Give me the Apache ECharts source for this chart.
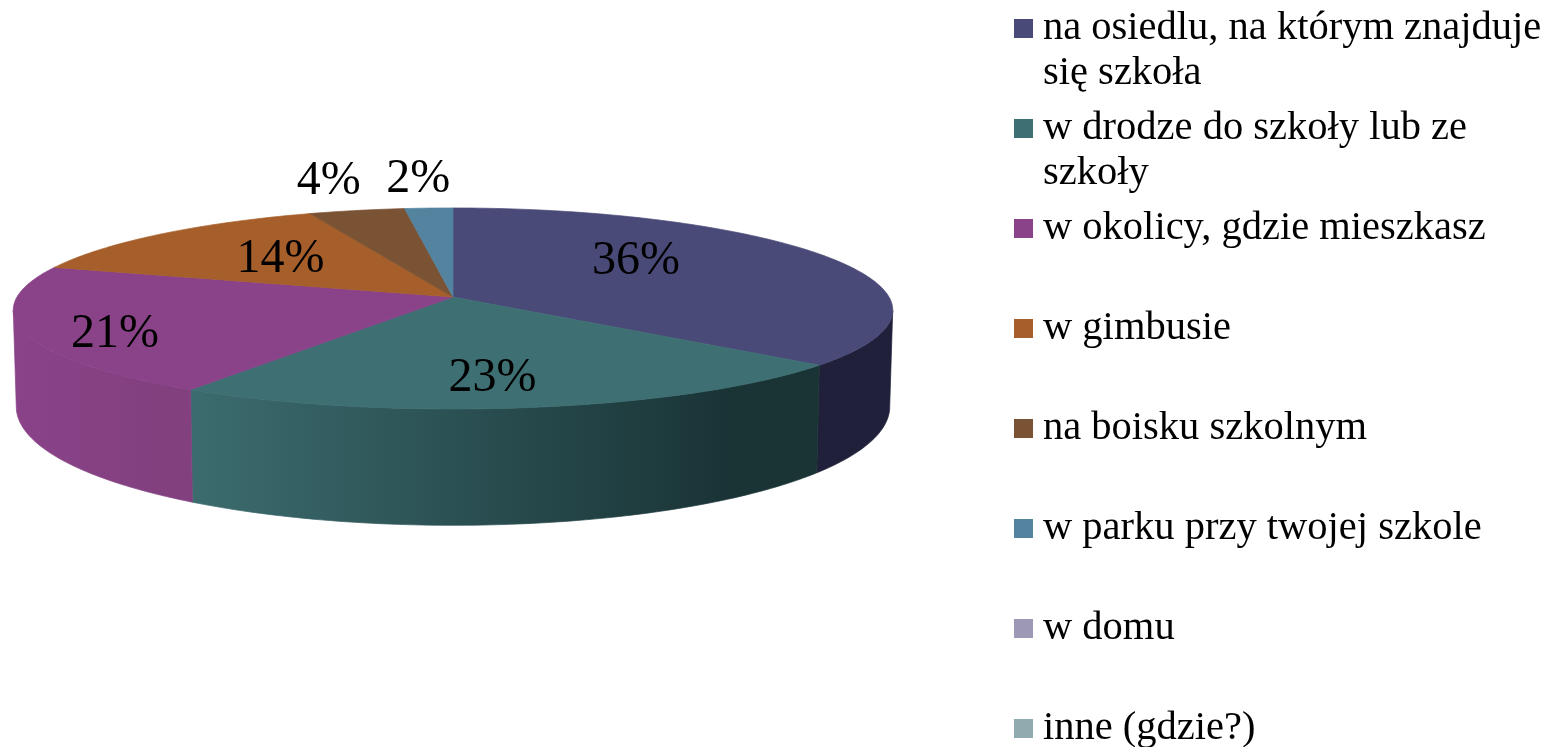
<!DOCTYPE html>
<html>
<head>
<meta charset="utf-8">
<style>
  html, body { margin: 0; padding: 0; background: #fff; overflow: hidden; }
  #chart { width: 1556px; height: 747px; }
</style>
<script src="https://cdn.jsdelivr.net/npm/echarts@6/dist/echarts.min.js"></script>
</head>
<body>
<div id="chart"></div>
<script>
// dane
const categories = [
  'na osiedlu, na którym znajduje',
  'w drodze do szkoły lub ze',
  'w okolicy, gdzie mieszkasz',
  'w gimbusie',
  'na boisku szkolnym',
  'w parku przy twojej szkole',
  'w domu',
  'inne (gdzie?)'
];
const secondLines = ['się szkoła', 'szkoły', ' ', ' ', ' ', ' ', ' ', ' '];
const values = [36, 23, 21, 14, 4, 2, 0, 0];

// kolory
const topColors = ['#4a4a78', '#3e6f73', '#8a4289', '#a65e2a', '#7a5234', '#53839f', '#9c98b5', '#90abaf'];
const wallLeft = ['#20203a', '#3c6c6f', '#8a4288', '#a65e2a', '#7a5234', '#53839f', '#9c98b5', '#90abaf'];
const wallRight = ['#20203a', '#1a3436', '#82407f', '#a65e2a', '#7a5234', '#53839f', '#9c98b5', '#90abaf'];

// polozenie etykiet: promien (1 = krawedz) i przesuniecie kata w stopniach
const labelRadius = [0.6, 0.726, 0.812, 0.6025, 1.43, 1.42, 1, 1];
const labelShift = [-17.4, 2.5, -4.2, 2.9, 0.8, -0.2, 0, 0];
const labelDy = 3;

const total = values.reduce((a, b) => a + b, 0);
const starts = [];
values.reduce((sum, v, i) => { starts[i] = sum; return sum + v; }, 0);

// rzut "kola" w perspektywie, kat liczony od gory zgodnie z zegarem
const cx = 453, cy = 297;
const topRim = { bx: 436, px: -0.13, ay: 99.2, py: -0.114, y0: cy };
const lowRim = { bx: 433, px: -0.13, ay: 119, py: -0.114, y0: 391 };
const wallFrom = 97.5, wallTo = 262.5;

const project = (rim, deg, r) => {
  const a = deg * Math.PI / 180;
  const u = Math.sin(a) * r, v = -Math.cos(a) * r;
  return [cx + rim.bx * u / (1 + rim.px * v), rim.y0 + rim.ay * v / (1 + rim.py * v)];
};

const arc = (rim, from, to) => {
  const pts = [];
  const steps = Math.max(1, Math.ceil(Math.abs(to - from)));
  for (let i = 0; i <= steps; i++) {
    pts.push(project(rim, from + (to - from) * i / steps, 1));
  }
  return pts;
};

const makeRender = (idx) => (params, api) => {
  const value = api.value(0);
  if (!value) return { type: 'group', children: [] };
  const from = starts[idx] / total * 360;
  const to = (starts[idx] + value) / total * 360;
  const children = [];

  // bok
  const wa = Math.max(from, wallFrom), wb = Math.min(to, wallTo);
  if (wb > wa) {
    const fill = new echarts.graphic.LinearGradient(0, 0, 1, 0, [
      { offset: 0, color: wallLeft[idx] },
      { offset: 0.85, color: wallRight[idx] },
      { offset: 1, color: wallRight[idx] }
    ]);
    children.push({
      type: 'polygon',
      shape: { points: arc(topRim, wa, wb).concat(arc(lowRim, wa, wb).reverse()) },
      style: { fill, stroke: fill, lineWidth: 0.7 }
    });
  }

  // gora
  children.push({
    type: 'polygon',
    shape: { points: [[cx, cy]].concat(arc(topRim, from, to)) },
    style: { fill: topColors[idx], stroke: topColors[idx], lineWidth: 0.7 }
  });

  // etykieta
  const mid = (from + to) / 2 + labelShift[idx];
  const pos = project(topRim, mid, labelRadius[idx]);
  children.push({
    type: 'text',
    x: pos[0],
    y: pos[1] + labelDy,
    z2: 10,
    style: {
      text: Math.round(value / total * 100) + '%',
      fill: '#000',
      font: '48px "Liberation Serif"',
      align: 'center',
      verticalAlign: 'middle'
    }
  });
  return { type: 'group', children };
};

const myChart = echarts.init(document.getElementById('chart'));

myChart.setOption({
  animation: false,
  backgroundColor: '#fff',
  color: topColors,
  legend: {
    orient: 'vertical',
    left: 1014,
    top: -39,
    height: 1200,
    padding: 0,
    itemWidth: 19,
    itemHeight: 19,
    itemGap: -35,
    icon: 'rect',
    selectedMode: false,
    data: categories,
    formatter: (name) => ' \n' + name + '\n' + secondLines[categories.indexOf(name)],
    textStyle: {
      color: '#000',
      fontFamily: 'Liberation Serif',
      fontSize: 40.5,
      lineHeight: 45,
      padding: [0, 0, 0, 5]
    }
  },
  series: categories.map((name, i) => ({
    name,
    type: 'custom',
    coordinateSystem: 'none',
    silent: true,
    renderItem: makeRender(i),
    data: [[values[i]]]
  }))
});
</script>
</body>
</html>
